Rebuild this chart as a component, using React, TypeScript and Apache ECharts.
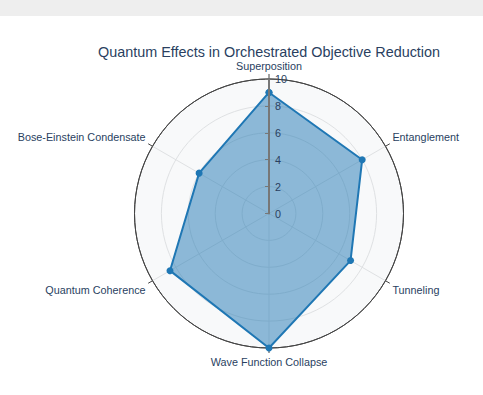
import React, { useEffect, useRef } from "react";
import * as echarts from "echarts";

const title = "Quantum Effects in Orchestrated Objective Reduction";
const categories = [
  "Superposition",
  "Entanglement",
  "Tunneling",
  "Wave Function Collapse",
  "Quantum Coherence",
  "Bose-Einstein Condensate",
];
const values = [9, 8, 7, 10, 8.5, 6];
const radialTicks = [0, 2, 4, 6, 8, 10];

export default function App() {
  const ref = useRef<HTMLDivElement>(null);
  useEffect(() => {
    if (!ref.current) return;
    const chart = echarts.init(ref.current, undefined, { renderer: "svg" });
    const step = 360 / categories.length;
    const pts = values.map((v, i) => [v, i * step]);
    pts.push([values[0], 360]);
    const font = "Liberation Sans, Arial, sans-serif";
    const textColor = "#2a3f5f";
    const gridColors = radialTicks.map((t, i) =>
      i === radialTicks.length - 1 ? "#444" : "#dfe1e3"
    );
    const rMin = radialTicks[0];
    const rMax = radialTicks[radialTicks.length - 1];
    const center = [269, 213.5];
    const radius = 134.5;
    const hiddenAngle = (idx: number, z: number) => ({
      polarIndex: idx,
      z,
      type: "value",
      min: 0,
      max: 360,
      interval: step,
      startAngle: 90,
      clockwise: true,
      axisLine: { show: false },
      axisTick: { show: false },
      axisLabel: { show: false },
      splitLine: { show: false },
    });
    chart.setOption({
      animation: false,
      backgroundColor: "#ffffff",
      textStyle: { fontFamily: font },
      title: {
        text: title,
        left: 264,
        top: 40,
        textAlign: "center",
        textStyle: { fontSize: 14.4, fontWeight: "normal", color: textColor, fontFamily: font },
      },
      graphic: [
        { type: "rect", shape: { x: 0, y: 0, width: 483, height: 16 }, style: { fill: "#eeeeee" }, z: -10 },
      ],
      polar: [
        { center, radius },
        { center, radius },
        { center, radius },
      ],
      angleAxis: [
        hiddenAngle(0, 0),
        {
          polarIndex: 1,
          z: 1,
          type: "value",
          min: 0,
          max: 360,
          interval: step,
          startAngle: 90,
          clockwise: true,
          axisLine: { show: true, lineStyle: { color: "#444", width: 1 } },
          axisTick: { show: true, length: 5, lineStyle: { color: "#444" } },
          axisLabel: {
            color: textColor,
            fontSize: 10.8,
            margin: 8,
            formatter: (v: number) => {
              const i = Math.round(v / step);
              return i < categories.length ? categories[i] : "";
            },
          },
          splitLine: { show: true, lineStyle: { color: "#dfe1e3", width: 1 } },
        },
        hiddenAngle(2, 5),
      ],
      radiusAxis: [
        {
          polarIndex: 0,
          z: 0,
          type: "value",
          min: rMin,
          max: rMax,
          interval: 2,
          axisLine: { show: false },
          axisTick: { show: false },
          axisLabel: { show: false },
          splitLine: { show: false },
          splitArea: { show: true, areaStyle: { color: ["#f8f9fa"] } },
        },
        {
          polarIndex: 1,
          z: 1,
          type: "value",
          min: rMin,
          max: rMax,
          interval: 2,
          axisLine: { show: false },
          axisTick: { show: false },
          axisLabel: { show: false },
          splitLine: { show: true, lineStyle: { color: gridColors, width: 1 } },
        },
        {
          polarIndex: 2,
          z: 5,
          type: "value",
          min: rMin,
          max: rMax,
          interval: 2,
          axisLine: { show: true, lineStyle: { color: "#777", width: 2 } },
          axisTick: { show: true, inside: true, length: 4, lineStyle: { color: "#777" } },
          axisLabel: { color: textColor, fontSize: 10.8, margin: -6, align: "left" },
          splitLine: { show: false },
        },
      ],
      series: [
        {
          type: "line",
          coordinateSystem: "polar",
          polarIndex: 1,
          data: pts,
          symbol: "circle",
          symbolSize: 7,
          itemStyle: { color: "#1f77b4" },
          lineStyle: { color: "#1f77b4", width: 2 },
          areaStyle: { color: "#1f77b4", opacity: 0.5, origin: "start" },
          z: 3,
        },
      ],
    });
    return () => chart.dispose();
  }, []);
  return (
    <div
      ref={ref}
      style={{ position: "absolute", left: 0, top: 0, width: 483, height: 395 }}
    />
  );
}
